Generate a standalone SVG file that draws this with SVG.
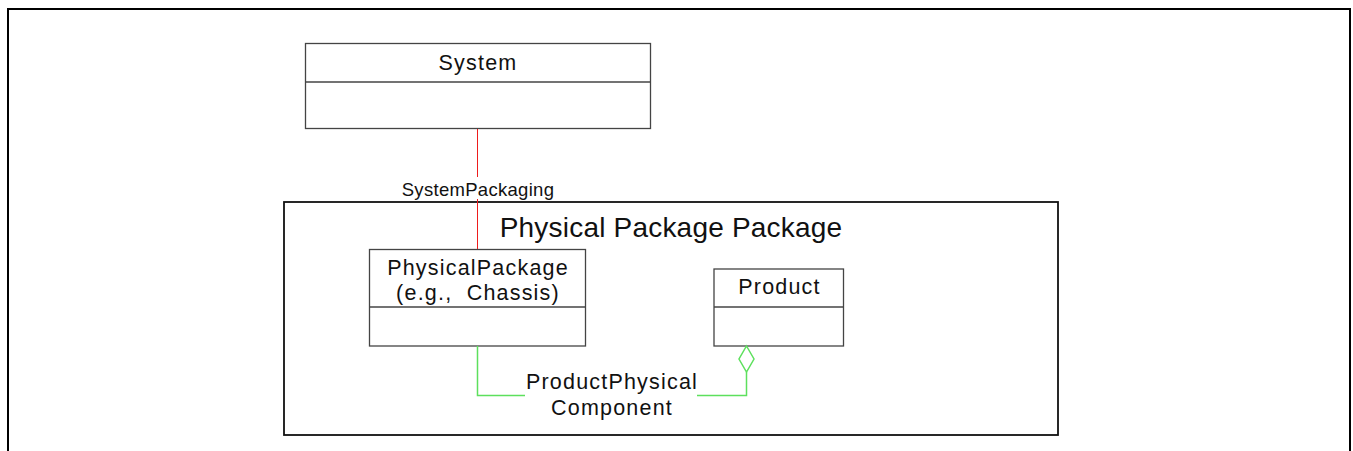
<svg xmlns="http://www.w3.org/2000/svg" width="1353" height="451" viewBox="0 0 1353 451">
<style>
text{font-family:"Liberation Sans",Arial,sans-serif;fill:#111;text-anchor:middle}
.cls{font-size:21.5px;letter-spacing:1.2px}
.lbl{font-size:18.5px;letter-spacing:0.3px}
.ttl{font-size:28px;letter-spacing:0.2px}
.box{fill:#fff;stroke:#444;stroke-width:1.3}
.div{stroke:#444;stroke-width:1.3}
.red{stroke:#ee1c1c;stroke-width:1;fill:none}
.grn{stroke:#5de05d;stroke-width:1.5;fill:none}
</style>
<rect width="1353" height="451" fill="#fff"/>
<path d="M8,451 V9 H1350 V451" fill="none" stroke="#000" stroke-width="2"/>
<g id="pkg">
<rect x="284" y="202" width="774" height="233" fill="none" stroke="#111" stroke-width="1.8"/>
<text class="ttl" x="671" y="237">Physical Package Package</text>
</g>
<g id="System">
<rect class="box" x="305.5" y="43.5" width="345" height="85"/>
<line class="div" x1="305.5" y1="82" x2="650.5" y2="82"/>
<text class="cls" x="478" y="70">System</text>
</g>
<g id="PhysicalPackage">
<rect class="box" x="369.5" y="249.5" width="216" height="96.5"/>
<line class="div" x1="369.5" y1="307" x2="585.5" y2="307"/>
<text class="cls" x="478" y="275">PhysicalPackage</text>
<text class="cls" x="478" y="300" style="white-space:pre">(e.g.,  Chassis)</text>
</g>
<g id="Product">
<rect class="box" x="714" y="269" width="129.5" height="77" stroke="#000"/>
<line class="div" x1="714" y1="307" x2="843.5" y2="307"/>
<text class="cls" x="779.5" y="294">Product</text>
</g>
<g id="connectors">
<path class="red" d="M477.5,129 V177 M477.5,199 V249"/>
<text class="lbl" x="478" y="195.5">SystemPackaging</text>
<path class="grn" d="M477.5,346 V395.5 H525 M697 395.5 H746.5 V372"/>
<polygon class="grn" points="746.5,346 754,359 746.5,372 739,359"/>
<text class="cls" x="612" y="389">ProductPhysical</text>
<text class="cls" x="612" y="415">Component</text>
</g>
</svg>
